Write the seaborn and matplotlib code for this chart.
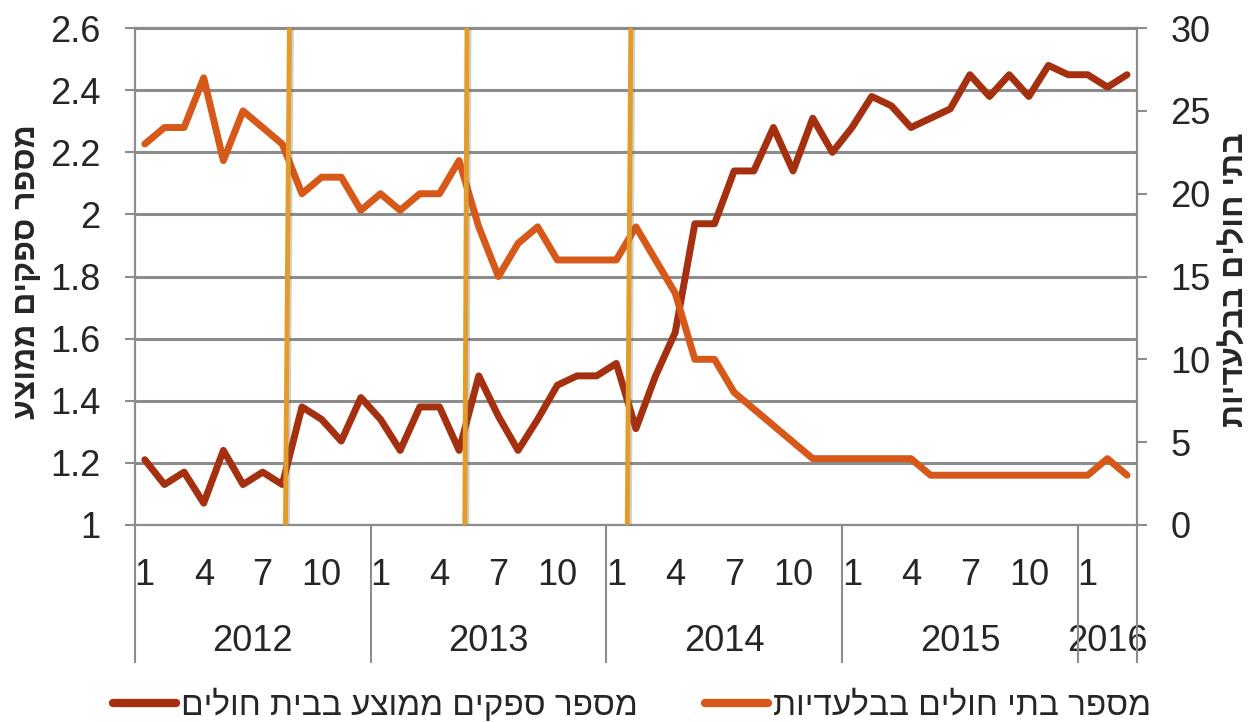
import numpy as np
import pandas as pd
import matplotlib
matplotlib.use("Agg")
import matplotlib.pyplot as plt
import matplotlib.patheffects as pe
from matplotlib.lines import Line2D
import seaborn as sns

# ---------------- data (monthly, Jan 2012 - Mar 2016) ----------------
years = ["2012", "2013", "2014", "2015", "2016"]
months_per_year = [12, 12, 12, 12, 3]
shown_months = [1, 4, 7, 10]

avg_suppliers = [1.21, 1.13, 1.17, 1.07, 1.24, 1.13, 1.17, 1.13, 1.38, 1.34, 1.27, 1.41,
                 1.34, 1.24, 1.38, 1.38, 1.24, 1.48, 1.35, 1.24, 1.34, 1.45, 1.48, 1.48,
                 1.52, 1.31, 1.48, 1.62, 1.97, 1.97, 2.14, 2.14, 2.28, 2.14, 2.31, 2.20,
                 2.28, 2.38, 2.35, 2.28, 2.31, 2.34, 2.45, 2.38, 2.45, 2.38, 2.48, 2.45,
                 2.45, 2.41, 2.45]
exclusive_hospitals = [23, 24, 24, 27, 22, 25, 24, 23, 20, 21, 21, 19,
                       20, 19, 20, 20, 22, 18, 15, 17, 18, 16, 16, 16,
                       16, 18, 16, 14, 10, 10, 8, 7, 6, 5, 4, 4,
                       4, 4, 4, 4, 3, 3, 3, 3, 3, 3, 3, 3,
                       3, 4, 3]

# event markers (month index at top / bottom of the plot, hand drawn so slightly slanted)
event_top = [7.36, 16.4, 24.74]
event_bottom = [7.16, 16.29, 24.56]

label_left = "מספר ספקים ממוצע"
label_right = "בתי חולים בבלעדיות"
legend_left = "מספר ספקים ממוצע בבית חולים"
legend_right = "מספר בתי חולים בבלעדיות"

DARK = "#A5300F"
ORANGE = "#D6591A"
GOLD = "#E39B2A"
GRID = "#8C8C8C"


def heb(s):
    # matplotlib has no bidi support -> feed visual order
    return s[::-1]


sns.set_style("white")
plt.rcParams["font.family"] = ["Liberation Sans Narrow", "Liberation Sans", "DejaVu Sans"]

df = pd.DataFrame({"idx": np.arange(len(avg_suppliers)),
                   "suppliers": avg_suppliers,
                   "hospitals": exclusive_hospitals})

fig = plt.figure(figsize=(12.59, 7.22), dpi=100)
ax = fig.add_axes([0.1072, 0.273, 0.7958, 0.688])
ax2 = ax.twinx()

line_kw = dict(lw=5, solid_joinstyle="round", solid_capstyle="round")
sns.lineplot(data=df, x="idx", y="suppliers", ax=ax, color=DARK, legend=False, **line_kw)
sns.lineplot(data=df, x="idx", y="hospitals", ax=ax2, color=ORANGE, legend=False, **line_kw)

for t, b in zip(event_top, event_bottom):
    ax2.plot([t, b], [30, 0], color=GOLD, lw=3.5, zorder=5,
             path_effects=[pe.SimpleLineShadow(offset=(1.5, -0.5), shadow_color="#666666", alpha=0.3),
                           pe.Normal()])

n = len(avg_suppliers)
ax.set_xlim(-0.5, n - 0.5)
ax.set_ylim(1, 2.6)
ax2.set_ylim(0, 30)

yt = np.round(np.arange(1, 2.61, 0.2), 1)
ax.set_yticks(yt)
ax.set_yticklabels([f"{v:g}" for v in yt])
ax2.set_yticks(np.arange(0, 31, 5))
ax.yaxis.grid(True, color=GRID, lw=2.2)
ax.set_axisbelow(True)
ax.set_xlabel("")
ax.set_ylabel("")
ax2.set_ylabel("")

for s in ["left", "bottom", "top"]:
    ax.spines[s].set_color(GRID)
    ax.spines[s].set_linewidth(1.6)
ax.spines["right"].set_visible(False)
for s in ["left", "bottom", "top"]:
    ax2.spines[s].set_visible(False)
ax2.spines["right"].set_color(GRID)
ax2.spines["right"].set_linewidth(1.6)

ax.tick_params(axis="y", length=7, width=1.5, color=GRID, pad=18, labelsize=26)
ax2.tick_params(axis="y", length=7, width=1.5, color=GRID, pad=17, labelsize=26)

# month level of the category axis
pos, labs, starts = [], [], []
start = 0
for y, m in zip(years, months_per_year):
    starts.append(start)
    for k in range(m):
        if k + 1 in shown_months:
            pos.append(start + k)
            labs.append(str(k + 1))
    start += m
ax.set_xticks(pos)
ax.set_xticklabels(labs)
ax.set_xticks(np.arange(-0.5, n, 1), minor=True)
ax.tick_params(axis="x", which="major", length=0, pad=24, labelsize=26)
ax.tick_params(axis="x", which="minor", length=49, width=1.5, color=GRID)

# year level
sec = ax.secondary_xaxis("bottom")
centers = [s + m / 2 - 0.5 for s, m in zip(starts, months_per_year)]
sec.set_xticks(centers)
sec.set_xticklabels(years)
sec.set_xticks([s - 0.5 for s in starts] + [n - 0.5], minor=True)
sec.tick_params(axis="x", which="major", length=0, pad=71, labelsize=26)
sec.tick_params(axis="x", which="minor", length=99, width=1.5, color=GRID)
sec.spines["bottom"].set_visible(False)

fig.text(27 / 1259, 1 - 272 / 722, heb(label_left), rotation=90, fontsize=23,
         fontweight="bold", ha="center", va="center")
fig.text(1236 / 1259, 1 - 280 / 722, heb(label_right), rotation=90, fontsize=23,
         fontweight="bold", ha="center", va="center")

handles = [Line2D([0], [0], color=DARK, lw=6, solid_capstyle="round"),
           Line2D([0], [0], color=ORANGE, lw=6, solid_capstyle="round")]
fig.legend(handles, [heb(legend_left), heb(legend_right)], loc="center",
           bbox_to_anchor=(0.502, 1 - 705 / 722), ncol=2, frameon=False, fontsize=24,
           handlelength=1.9, handletextpad=0.15, columnspacing=2.0)

fig.savefig("out.png", dpi=100)
